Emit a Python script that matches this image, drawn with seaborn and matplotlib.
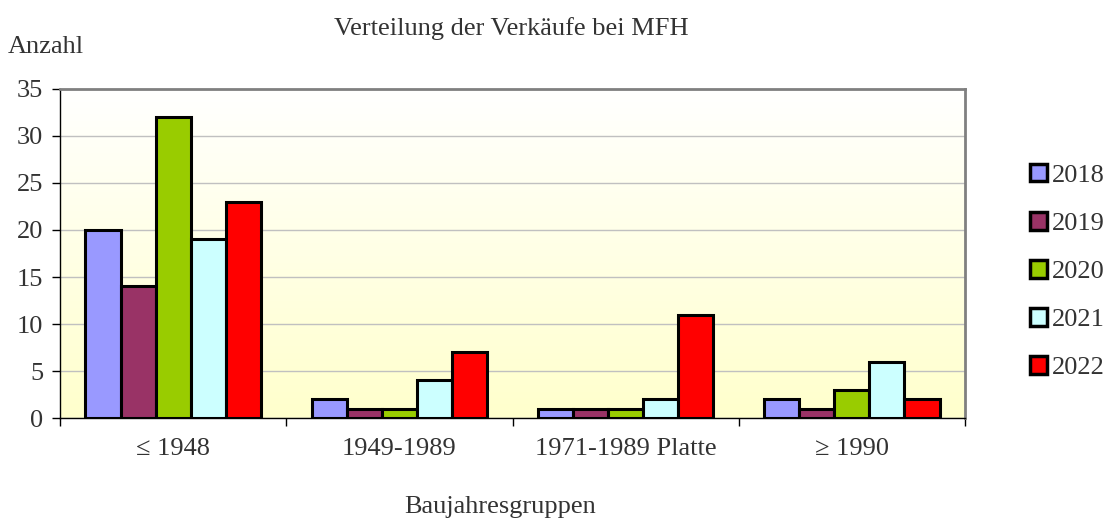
import numpy as np
import pandas as pd
import seaborn as sns
import matplotlib.pyplot as plt
from matplotlib.colors import LinearSegmentedColormap

# Data
groups = ['≤ 1948', '1949-1989', '1971-1989 Platte', '≥ 1990']
years = ['2018', '2019', '2020', '2021', '2022']
v2018 = [20, 2, 1, 2]
v2019 = [14, 1, 1, 1]
v2020 = [32, 1, 1, 3]
v2021 = [19, 4, 2, 6]
v2022 = [23, 7, 11, 2]
colors = ['#9999FF', '#993366', '#99CC00', '#CCFFFF', '#FF0000']

rows = []
for yr, vals in zip(years, [v2018, v2019, v2020, v2021, v2022]):
    for g, v in zip(groups, vals):
        rows.append({'Gruppe': g, 'Jahr': yr, 'Anzahl': v})
df = pd.DataFrame(rows)

sns.set_style('white')
plt.rcParams['font.family'] = ['Liberation Serif', 'DejaVu Serif']
fs = 19

fig = plt.figure(figsize=(11.11, 5.2), dpi=100)
ax = fig.add_axes([0.054, 0.196, 0.8146, 0.633])

# gradient background: white at top, light yellow at bottom
cmap = LinearSegmentedColormap.from_list('bg', ['#FFFFCC', '#FFFFFF'])
grad = np.linspace(0, 1, 256).reshape(-1, 1)
ax.imshow(grad, aspect='auto', cmap=cmap, origin='lower',
          extent=[0, 1, 0, 1], transform=ax.transAxes, zorder=0)

sns.barplot(data=df, x='Gruppe', y='Anzahl', hue='Jahr', palette=colors,
            width=0.775, gap=0, edgecolor='black', linewidth=2.2,
            saturation=1, ax=ax, zorder=3)

ax.set_xlim(-0.5, 3.5)
ax.set_ylim(0, 35)
ax.set_yticks(range(0, 36, 5))
ax.yaxis.grid(True, color='#C0C0C0', linewidth=1, zorder=1)
ax.set_axisbelow(True)

ax.set_xticks(range(4))
ax.set_xticklabels(groups)
ax.set_xticks(np.arange(-0.5, 4, 1), minor=True)
ax.tick_params(axis='x', which='major', length=0, labelsize=fs, pad=14,
               colors='#333333')
ax.tick_params(axis='x', which='minor', length=6, width=1, color='black',
               direction='out', bottom=True)
ax.tick_params(axis='y', length=6, width=1, color='black', direction='out',
               left=True, labelsize=fs, labelcolor='#333333', pad=6)

for s in ['left', 'bottom']:
    ax.spines[s].set_color('black')
    ax.spines[s].set_linewidth(1)
for s in ['top', 'right']:
    ax.spines[s].set_color('#808080')
    ax.spines[s].set_linewidth(2)

ax.set_xlabel('')
ax.set_ylabel('')
fig.text(0.45, 0.025, 'Baujahresgruppen', fontsize=fs, color='#333333',
         ha='center', va='center')
fig.text(0.46, 0.945, 'Verteilung der Verkäufe bei MFH', fontsize=fs,
         color='#333333', ha='center', va='center')
fig.text(0.007, 0.91, 'Anzahl', fontsize=fs, color='#333333',
         ha='left', va='center')

leg = ax.legend(loc='center left', bbox_to_anchor=(1.06, 0.445), frameon=False,
                fontsize=fs, handlelength=0.65, handleheight=0.65,
                handletextpad=0.2, labelspacing=0.95, borderaxespad=0)
for t in leg.get_texts():
    t.set_color('#333333')
for h in leg.legend_handles:
    h.set_linewidth(2.5)

fig.savefig('out.png', dpi=100)
